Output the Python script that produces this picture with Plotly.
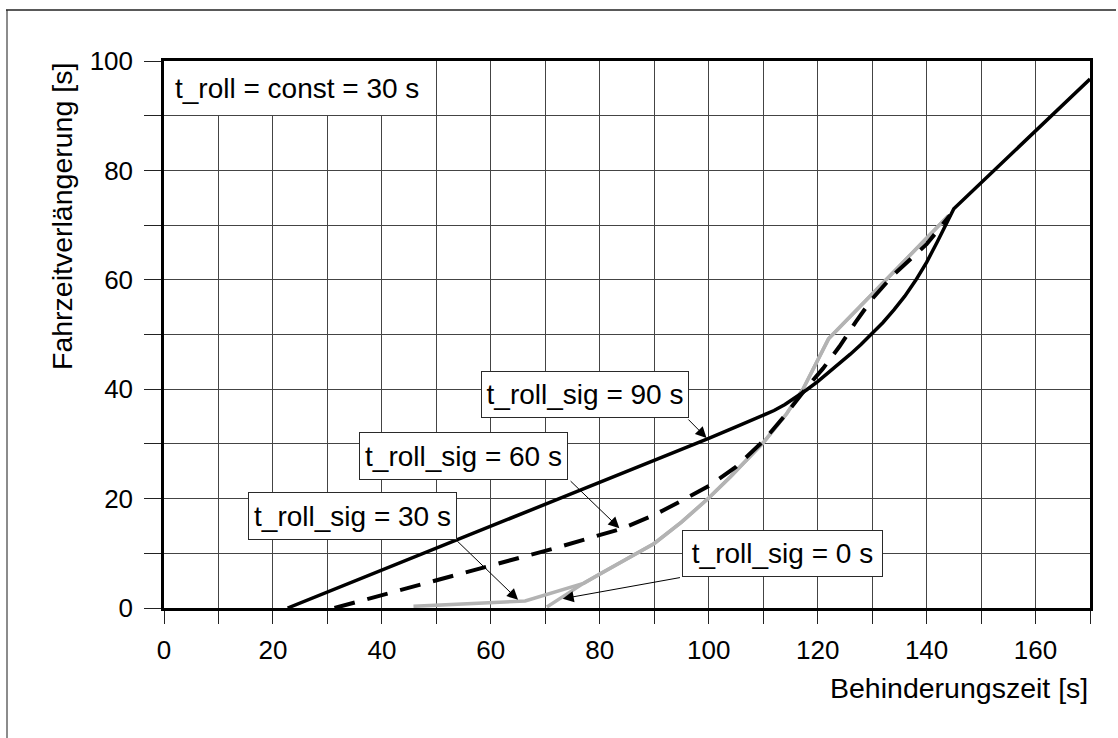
import plotly.graph_objects as go

# Fahrzeitverlängerung über Behinderungszeit (t_roll = const = 30 s)
x_sig90 = [22.7, 40, 60, 80, 100, 105, 110, 112, 114, 116, 118, 120, 122, 124, 126, 128,
           130, 132, 134, 136, 138, 140, 142, 144, 145, 170]
y_sig90 = [0.0, 6.9, 14.9, 22.9, 31.0, 33.1, 35.2, 36.1, 37.2, 38.5, 39.9, 41.4, 43.0, 44.7, 46.4, 48.2,
           50.1, 52.2, 54.5, 57.0, 59.9, 63.2, 67.0, 71.0, 73.0, 96.7]

x_sig60 = [31.3, 50, 72, 84, 90, 95, 100, 105, 110, 114, 118, 121, 124, 127, 130, 134, 140, 144.3]
y_sig60 = [0.0, 5.0, 11.0, 14.5, 17.0, 19.6, 22.3, 25.8, 30.5, 35.2, 40.3, 43.8, 47.8, 52.3, 56.5, 61.0, 66.5, 71.8]

x_sig0 = [70.3, 77, 80, 83.5, 87, 90, 95, 100, 104, 107, 110, 114.3, 117.3, 122, 144]
y_sig0 = [0.2, 4.5, 6.2, 8.1, 10.0, 11.8, 15.7, 20.1, 24.0, 27.0, 30.2, 35.5, 40.0, 49.2, 71.7]

# t_roll_sig = 30 s: eigener Anfang, danach deckungsgleich mit t_roll_sig = 0 s
x_sig30 = [45.8, 66.3] + x_sig0[1:]
y_sig30 = [0.3, 1.3] + y_sig0[1:]

x_ticks = [0, 20, 40, 60, 80, 100, 120, 140, 160]
y_ticks = [0, 20, 40, 60, 80, 100]

W, H = 1118, 738
ML, MR, MT, MB = 164, 28, 61, 130
PW, PH = W - ML - MR, H - MT - MB


def px_x(p):
    return (p - ML) / PW


def px_y(p):
    return (H - MB - p) / PH


FONT = "Liberation Sans, Arial, sans-serif"
GREY = "#b3b3b3"
GRID = "#444444"

fig = go.Figure()
fig.add_trace(go.Scatter(x=x_sig30, y=y_sig30, mode="lines",
                         line=dict(color=GREY, width=3.5), showlegend=False))
fig.add_trace(go.Scatter(x=x_sig0, y=y_sig0, mode="lines",
                         line=dict(color=GREY, width=3.5), showlegend=False))
fig.add_trace(go.Scatter(x=x_sig60, y=y_sig60, mode="lines",
                         line=dict(color="black", width=4, dash="21px,13px"), showlegend=False))
fig.add_trace(go.Scatter(x=x_sig90, y=y_sig90, mode="lines",
                         line=dict(color="black", width=3.5), showlegend=False))

axis_common = dict(
    showline=True, linecolor="black", linewidth=2.5, mirror=True,
    showgrid=True, gridcolor=GRID, gridwidth=1,
    ticks="outside", tickcolor="#222222", tickwidth=1,
    tickfont=dict(family=FONT, size=26, color="black"),
    zeroline=False, fixedrange=True,
)

fig.update_xaxes(range=[0, 170], tickvals=x_ticks, ticklen=13,
                 ticklabelstandoff=4,
                 minor=dict(dtick=10, tick0=0, ticks="outside", ticklen=13,
                            tickcolor="#222222", showgrid=True, gridcolor=GRID, gridwidth=1),
                 **axis_common)
fig.update_yaxes(range=[0, 100], tickvals=y_ticks, ticklen=17,
                 ticklabelstandoff=6,
                 minor=dict(dtick=10, tick0=0, ticks="outside", ticklen=17,
                            tickcolor="#222222", showgrid=True, gridcolor=GRID, gridwidth=1),
                 **axis_common)

shapes = [
    # weißes Feld hinter dem Titeltext
    dict(type="rect", xref="x", yref="y", x0=0, x1=49.85, y0=90.12, y1=100,
         fillcolor="white", line=dict(width=0), layer="between"),
    # Rahmen links und oben
    dict(type="line", xref="paper", yref="paper", x0=px_x(7), x1=px_x(7),
         y0=px_y(10), y1=px_y(H), line=dict(color="#8c8c8c", width=2)),
    dict(type="line", xref="paper", yref="paper", x0=px_x(6), x1=px_x(W - 2),
         y0=px_y(10), y1=px_y(10), line=dict(color="#222222", width=1.5)),
]

annotations = [
    dict(text="t_roll = const = 30 s", x=1.7, y=95, xref="x", yref="y",
         xanchor="left", yanchor="middle", showarrow=False,
         font=dict(family=FONT, size=28, color="black")),
    dict(text="Behinderungszeit [s]", x=1.0, y=px_y(688), xref="paper", yref="paper",
         xanchor="right", yanchor="middle", showarrow=False,
         font=dict(family=FONT, size=28.5, color="black")),
    dict(text="Fahrzeitverlängerung [s]", x=px_x(61.5), y=1.0, xref="paper", yref="paper",
         xanchor="center", yanchor="top", textangle=-90, showarrow=False,
         font=dict(family=FONT, size=28.5, color="black")),
]

# Beschriftungskästen: Text, Mittelpunkt (x, y), Breite, Höhe
boxes = [
    ("t_roll_sig = 90 s", 77.2, 39.06, 206, 45),
    ("t_roll_sig = 60 s", 54.9, 27.76, 207, 46),
    ("t_roll_sig = 30 s", 34.58, 16.73, 207, 46),
    ("t_roll_sig = 0 s", 113.5, 9.96, 199, 45),
]
for txt, bx, by, bw, bh in boxes:
    annotations.append(dict(
        text=txt, x=bx, y=by, xref="x", yref="y", xanchor="center", yanchor="middle",
        width=bw, height=bh, showarrow=False, bgcolor="white",
        bordercolor="#2a2a2a", borderwidth=1, borderpad=0,
        font=dict(family=FONT, size=28, color="black")))

# Pfeile: Spitze (x, y), Anfang (ax, ay)
arrows = [
    (99.6, 31.1, 96.0, 34.73),
    (83.6, 14.6, 74.37, 23.46),
    (65.0, 1.5, 53.57, 12.49),
    (73.2, 1.7, 95.0, 5.61),
]
for hx, hy, tx, ty in arrows:
    annotations.append(dict(
        text="", x=hx, y=hy, ax=tx, ay=ty, xref="x", yref="y", axref="x", ayref="y",
        showarrow=True, arrowhead=2, arrowsize=2.2, arrowwidth=1, arrowcolor="black",
        standoff=0, startstandoff=0))

fig.update_layout(
    width=W, height=H,
    margin=dict(l=ML, r=MR, t=MT, b=MB),
    paper_bgcolor="white", plot_bgcolor="white",
    shapes=shapes, annotations=annotations,
    font=dict(family=FONT, color="black"),
)

fig.write_html("out.html")
